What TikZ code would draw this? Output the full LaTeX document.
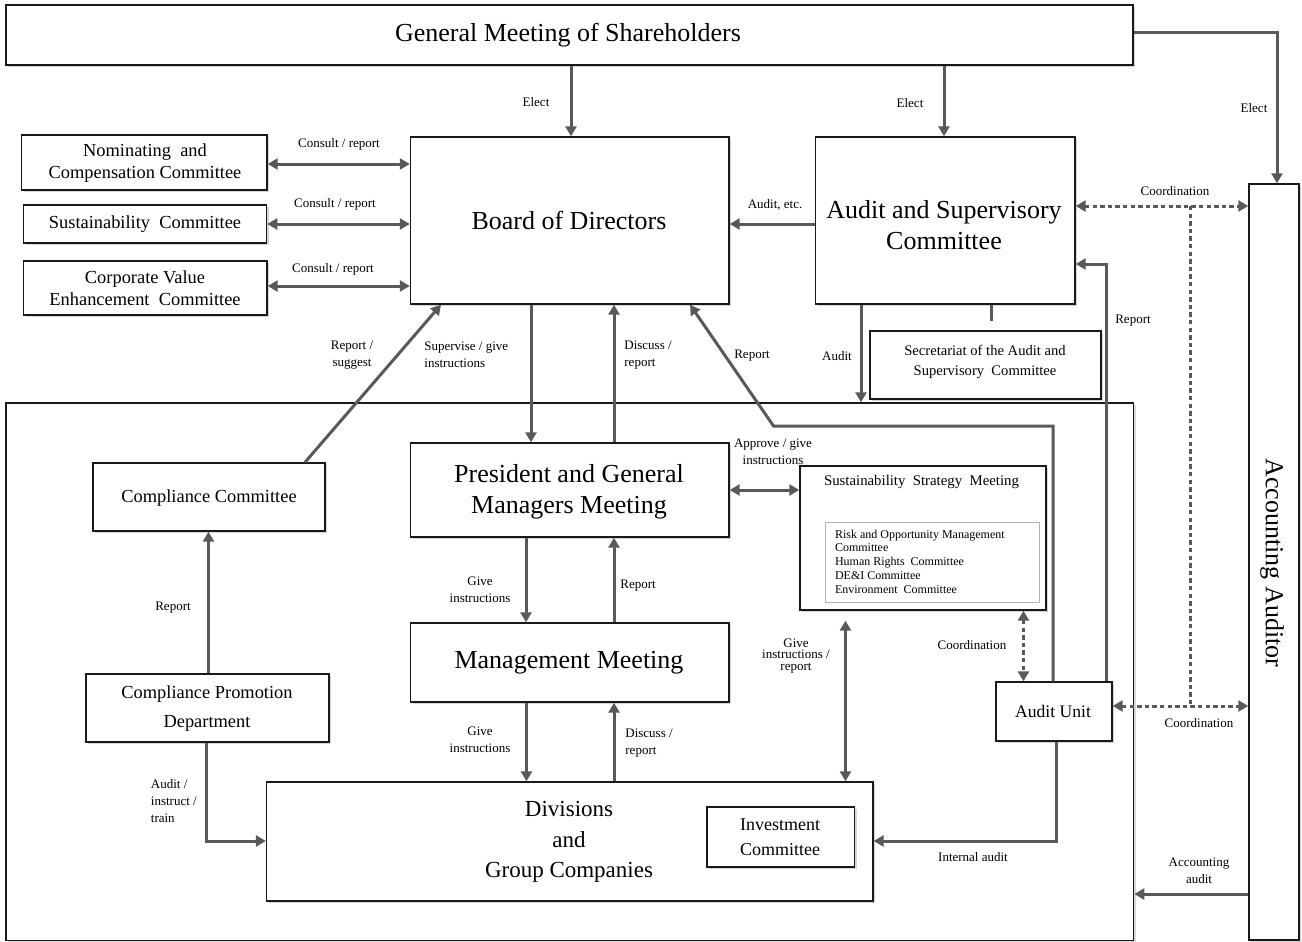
\documentclass[tikz,border=0pt]{standalone}
\usepackage{fontspec}
\setmainfont{Liberation Serif}
\usetikzlibrary{arrows.meta,shadows,fit,calc}
\definecolor{arrgray}{HTML}{595959}
\begin{document}
\begin{tikzpicture}[x=0.5pt,y=-0.5pt,
 box/.style={draw=black!90,line width=0.7pt,fill=white,inner sep=0pt,
   drop shadow={shadow xshift=1.2pt,shadow yshift=-1.2pt,fill=black!40,opacity=0.4}},
 arr/.style={draw=arrgray,line width=1.5pt,-{Triangle[length=5pt,width=5.5pt]}},
 darr/.style={draw=arrgray,line width=1.5pt,{Triangle[length=5pt,width=5.5pt]}-{Triangle[length=5pt,width=5.5pt]}},
 ln/.style={draw=arrgray,line width=1.5pt},
 dsh/.style={dash pattern=on 2.2pt off 1.6pt},
 lbl/.style={font=\fontsize{6.5}{8.5}\selectfont,align=center,inner sep=0pt},
 txt/.style={align=center,inner sep=0pt},
 bigT/.style={txt,font=\fontsize{13}{15.5}\selectfont},
 midT/.style={txt,font=\fontsize{9.2}{11}\selectfont},
]
\useasboundingbox (0,0) rectangle (1302,942);

% ---------- boxes ----------
\node[box,fit={(6,403)(1133.6,940.5)}] (org) {};
\node[box,fit={(6,5)(1133,65)}] (gms) {};
\node[bigT] (gmsT) at (568,35) {General Meeting of Shareholders};
\node[box,fit={(410.5,137)(729,304)}] (board) {};
\node[bigT] (boardT) at (569,220) {Board of Directors};
\node[box,fit={(815.5,137)(1075,304)}] (asc) {};
\node[bigT] (ascT) at (944,225) {Audit and Supervisory\\Committee};
\node[box,fit={(1249,184)(1299,940)}] (acc) {};
\node[bigT,rotate=-90] (accT) at (1272,563) {Accounting Auditor};

\node[box,fit={(21.6,135)(267,190)}] (nom) {};
\node[midT] (nomT) at (145,163) {Nominating \ and\\Compensation Committee};
\node[box,fit={(23.6,205)(266.6,243)}] (sus) {};
\node[midT] (susT) at (145,224) {Sustainability \ Committee};
\node[box,fit={(23.6,261)(267,315)}] (cve) {};
\node[midT] (cveT) at (145,288) {Corporate Value\\Enhancement \ Committee};
\node[box,fit={(870,331)(1101,399)}] (sec) {};
\node[txt,font=\fontsize{7.3}{10}\selectfont] (secT) at (985,362) {Secretariat of the Audit and\\Supervisory \ Committee};

\node[box,fit={(93,463)(325,531)}] (cc) {};
\node[midT] (ccT) at (209,498) {Compliance Committee};
\node[box,fit={(86,674)(329,742)}] (cpd) {};
\node[txt,font=\fontsize{9.2}{14.5}\selectfont] (cpdT) at (207,708.5) {Compliance Promotion\\Department};

\node[box,fit={(410.5,443)(729,537)}] (pres) {};
\node[bigT] (presT) at (569,491.5) {President and General\\Managers Meeting};
\node[box,fit={(410.5,623)(729,702)}] (mm) {};
\node[bigT] (mmT) at (569,663) {Management Meeting};

\node[box,fit={(800,466)(1046,610)}] (ssm) {};
\node[txt,font=\fontsize{7.4}{9}\selectfont] (ssmT) at (921.5,482) {Sustainability \ Strategy \ Meeting};
\node[draw=black!30,line width=0.5pt,fill=white,inner sep=0pt,fit={(825.5,522)(1039,602)}] (ssmIn) {};
\node[font=\fontsize{6}{6.9}\selectfont,align=left,anchor=west,inner sep=0pt] (ssmL) at (834.6,561.5)
  {Risk and Opportunity Management\\Committee\\Human Rights \ Committee\\DE\&I Committee\\Environment \ Committee};

\node[box,fit={(996,682)(1112,741)}] (au) {};
\node[txt,font=\fontsize{8.8}{11}\selectfont] (auT) at (1053,711) {Audit Unit};

\node[box,fit={(266.6,782)(873,901)}] (div) {};
\node[txt,font=\fontsize{11.5}{15.2}\selectfont] (divT) at (569,842) {Divisions\\and\\Group Companies};
\node[box,fit={(707,807)(854.6,867)}] (inv) {};
\node[txt,font=\fontsize{9}{12.5}\selectfont] (invT) at (780,837.5) {Investment\\Committee};

% ---------- connectors ----------
\draw[arr] (571,0 |- gms.south) -- (571,0 |- board.north);
\node[lbl] (l1) at (536,102) {Elect};
\draw[arr] (944,0 |- gms.south) -- (944,0 |- asc.north);
\node[lbl] (l2) at (910,103) {Elect};
\draw[arr] (gms.east |- 0,32) -- (1277,32) -- (1277,0 |- acc.north);
\node[lbl] (l3) at (1254,108) {Elect};

\draw[darr] (nom.east |- 0,164) -- (board.west |- 0,164);
\node[lbl] (l4) at (339,144) {Consult / report};
\draw[darr] (sus.east |- 0,224) -- (board.west |- 0,224);
\node[lbl] (l5) at (335,204) {Consult / report};
\draw[darr] (cve.east |- 0,286) -- (board.west |- 0,286);
\node[lbl] (l6) at (333,269) {Consult / report};

\draw[arr] (asc.west |- 0,224) -- (board.east |- 0,224);
\node[lbl] (l7) at (775,205) {Audit, etc.};

\coordinate (secgap) at (991,321);
\draw[ln] (991,0 |- asc.south) -- (secgap);
\draw[arr] (861,0 |- asc.south) -- (861,0 |- org.north);
\node[lbl] (l8) at (837,356) {Audit};

\draw[arr] (1106.5,0 |- au.north) -- (1106.5,264) -- (asc.east |- 0,264);
\node[lbl] (l9) at (1133,321) {Report};

\draw[darr,dsh] (asc.east |- 0,206) -- (acc.west |- 0,206);
\node[lbl] (l10) at (1175,191) {Coordination};
\coordinate (dtop) at (1190.5,206);
\coordinate (dbot) at (1190.5,706);
\draw[ln,dsh] (dtop) -- (dbot);
\draw[darr,dsh] (au.east |- 0,706) -- (acc.west |- 0,706);
\node[lbl] (l11) at (1199,723) {Coordination};

\draw[arr] (531,0 |- board.south) -- (531,0 |- pres.north);
\draw[arr] (614,0 |- pres.north) -- (614,0 |- board.south);
\node[lbl,align=left,anchor=west] (l12) at (424,355) {Supervise / give\\instructions};
\node[lbl,align=left,anchor=west] (l13) at (624,355) {Discuss /\\report};
\node[lbl] (l14) at (352,355) {Report /\\suggest};

\draw[arr] (305,0 |- cc.north) -- (441,0 |- board.south);

\draw[arr] (1053,0 |- au.north) -- (1053,426) -- (773.5,426) -- (690,0 |- board.south);
\node[lbl] (l15) at (752,356) {Report};

\draw[darr] (pres.east |- 0,490) -- (ssm.west |- 0,490);
\node[lbl] (l16) at (773,452) {Approve / give\\instructions};

\draw[arr] (526,0 |- pres.south) -- (526,0 |- mm.north);
\draw[arr] (614,0 |- mm.north) -- (614,0 |- pres.south);
\node[lbl] (l17) at (480,590) {Give\\instructions};
\node[lbl,anchor=west] (l18) at (620,586) {Report};

\draw[arr] (526.5,0 |- mm.south) -- (526.5,0 |- div.north);
\draw[arr] (614,0 |- div.north) -- (614,0 |- mm.south);
\node[lbl] (l19) at (480,740) {Give\\instructions};
\node[lbl,align=left,anchor=west] (l20) at (625,743) {Discuss /\\report};

\draw[darr,shorten <=5pt] (845.5,0 |- ssm.south) -- (845.5,0 |- div.north);
\node[lbl,font=\fontsize{6.5}{5.6}\selectfont] (l21) at (796,656) {Give\\instructions /\\report};

\draw[darr,dsh] (1023.5,0 |- ssm.south) -- (1023.5,0 |- au.north);
\node[lbl] (l22) at (972,645) {Coordination};

\draw[arr] (1056.5,0 |- au.south) -- (1056.5,841) -- (div.east |- 0,841);
\node[lbl] (l23) at (973,857) {Internal audit};

\draw[arr] (acc.west |- 0,894) -- (org.east |- 0,894);
\node[lbl] (l24) at (1199,871) {Accounting\\audit};

\draw[arr] (208.5,0 |- cpd.north) -- (208.5,0 |- cc.south);
\node[lbl] (l25) at (173,608) {Report};

\draw[arr] (206.5,0 |- cpd.south) -- (206.5,841) -- (div.west |- 0,841);
\node[lbl,align=left,anchor=west] (l26) at (150.5,801) {Audit /\\instruct /\\train};
\end{tikzpicture}
\end{document}
